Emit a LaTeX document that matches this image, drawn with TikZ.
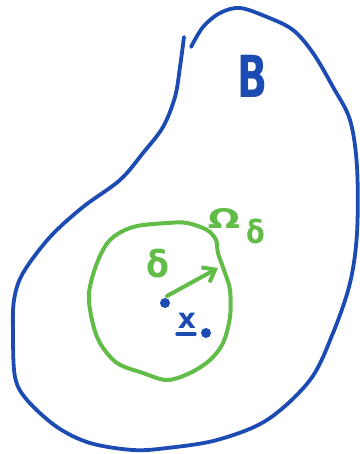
\documentclass[tikz,border=0pt]{standalone}
\usepackage{fontspec}
\setmainfont{DejaVu Sans}
\usetikzlibrary{arrows.meta}
\begin{document}
\begin{tikzpicture}[x=1pt,y=-1pt,
  bluec/.style={draw=myblue,line width=3.8pt,line cap=round,line join=round},
  greenc/.style={draw=mygreen,line width=4pt,line cap=round,line join=round},
  dotn/.style={circle,fill=myblue,inner sep=0pt,minimum size=10pt},
  lbl/.style={inner sep=0pt,font=\bfseries}]
\definecolor{myblue}{HTML}{1C4BB4}
\definecolor{mygreen}{HTML}{62BC48}
\useasboundingbox (0,0) rectangle (359,454);
% body B outline
\draw[bluec] plot[smooth,tension=0.55] coordinates {
 (184,37) (180,67) (175,97) (163,127) (143,153) (120,180) (83,207) (50,237)
 (23,273) (14,300) (13,333) (15,377) (27,400) (57,427) (90,443) (133,450)
 (167,448) (217,440) (267,420) (310,380) (333,333) (350,283) (357,233)
 (357,167) (350,120) (333,87) (313,53) (293,30) (267,17) (240,8) (220,13)
 (203,27) (191,47)};
% Omega_delta region
\draw[greenc] plot[smooth cycle,tension=0.55] coordinates {
 (167,223) (133,227) (110,240) (97,263) (89,293) (92,320) (100,343) (117,363)
 (143,373) (167,380) (190,373) (210,360) (223,343) (230,317) (230,290)
 (225,273) (218,253) (216,240) (207,230) (187,223)};
% points
\node[dotn] (x0) at (165,303) {};
\node[dotn] (x1) at (206,333) {};
\coordinate (c) at (167,296);
\coordinate (r) at (218,268);
\draw[greenc,-{Straight Barb[length=11pt,width=17pt,line width=4pt]}] (c) -- (r);
% labels
\node[lbl,text=mygreen,font=\bfseries\fontsize{37}{37}\selectfont,xscale=0.9] (d) at (158,264) {δ};
\node[lbl,text=mygreen,font=\bfseries\fontsize{27}{27}\selectfont,xscale=1.4] (om) at (224,218) {Ω};
\node[lbl,text=mygreen,font=\bfseries\fontsize{32}{32}\selectfont,xscale=0.85] (oms) at (256,231) {δ};
\node[lbl,text=myblue,font=\bfseries\fontsize{58}{58}\selectfont,xscale=0.68] (b) at (253,76) {B};
\node[lbl,text=myblue,font=\bfseries\fontsize{28}{28}\selectfont] (xl) at (187,321) {x};
\draw[bluec,line width=3.4pt] (177,334) -- (195,334);
\end{tikzpicture}
\end{document}
